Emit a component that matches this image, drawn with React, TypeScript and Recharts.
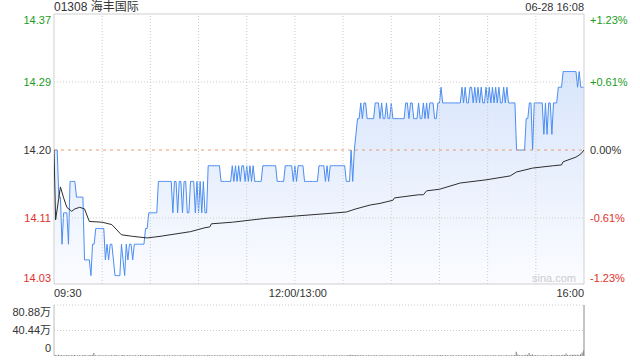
import React from 'react';
import { ComposedChart, Area, Line, Bar, XAxis, YAxis, ReferenceLine, ReferenceArea } from 'recharts';

// header texts
const stockTitle = '01308 海丰国际';
const stampText = '06-28 16:08';
const watermark = 'sina.com';

// price scale
const prevClose = 14.2;
const priceLow = 14.0293;
const priceHigh = 14.3733;
const priceTickLabels = ['14.03', '14.11', '14.20', '14.29', '14.37'];
const pctTickLabels = ['-1.23%', '-0.61%', '0.00%', '+0.61%', '+1.23%'];

// time axis (minutes after 09:30, lunch break removed)
const timeTicks = [0, 150, 330];
const timeLabels = ['09:30', '12:00/13:00', '16:00'];
const gridMinutes = [30, 60, 90, 120, 150, 180, 210, 240, 270, 300];

// volume scale (万)
const volMax = 80.88;
const volTicks = [0, 40.44, 80.88];
const volTickLabels = ['0', '40.44万', '80.88万'];

// price per minute
const prices = [
  14.20, 14.20, 14.20, 14.14, 14.14, 14.08, 14.12, 14.12, 14.12, 14.08,
  14.16, 14.16, 14.16, 14.16, 14.14, 14.14, 14.14, 14.14, 14.14, 14.06,
  14.06, 14.06, 14.06, 14.04, 14.08, 14.08, 14.10, 14.10, 14.10, 14.10,
  14.10, 14.10, 14.06, 14.08, 14.06, 14.08, 14.08, 14.06, 14.04, 14.04,
  14.04, 14.04, 14.08, 14.06, 14.04, 14.08, 14.06, 14.08, 14.08, 14.06,
  14.08, 14.08, 14.08, 14.08, 14.08, 14.08, 14.08, 14.10, 14.10, 14.12,
  14.12, 14.12, 14.12, 14.12, 14.12, 14.16, 14.16, 14.16, 14.16, 14.16,
  14.16, 14.16, 14.16, 14.16, 14.12, 14.16, 14.16, 14.12, 14.16, 14.16,
  14.12, 14.16, 14.16, 14.12, 14.12, 14.16, 14.16, 14.16, 14.12, 14.16,
  14.12, 14.16, 14.12, 14.16, 14.12, 14.12, 14.18, 14.18, 14.18, 14.18,
  14.18, 14.18, 14.18, 14.18, 14.16, 14.16, 14.16, 14.16, 14.16, 14.16,
  14.16, 14.18, 14.16, 14.18, 14.16, 14.18, 14.16, 14.18, 14.18, 14.16,
  14.18, 14.16, 14.18, 14.16, 14.18, 14.16, 14.16, 14.16, 14.16, 14.16,
  14.18, 14.18, 14.18, 14.18, 14.18, 14.18, 14.18, 14.18, 14.18, 14.16,
  14.16, 14.16, 14.16, 14.16, 14.18, 14.18, 14.18, 14.18, 14.18, 14.16,
  14.18, 14.16, 14.18, 14.18, 14.18, 14.18, 14.16, 14.16, 14.16, 14.16,
  14.16, 14.16, 14.16, 14.16, 14.16, 14.18, 14.18, 14.18, 14.18, 14.16,
  14.18, 14.16, 14.18, 14.18, 14.18, 14.18, 14.18, 14.18, 14.18, 14.18,
  14.18, 14.18, 14.16, 14.16, 14.16, 14.20, 14.16, 14.20, 14.22, 14.24,
  14.24, 14.26, 14.24, 14.26, 14.26, 14.24, 14.24, 14.24, 14.24, 14.24,
  14.26, 14.26, 14.26, 14.24, 14.26, 14.24, 14.24, 14.26, 14.24, 14.24,
  14.26, 14.24, 14.24, 14.24, 14.24, 14.24, 14.24, 14.24, 14.24, 14.26,
  14.26, 14.24, 14.26, 14.26, 14.24, 14.24, 14.24, 14.26, 14.24, 14.24,
  14.26, 14.24, 14.26, 14.24, 14.26, 14.26, 14.26, 14.24, 14.24, 14.26,
  14.26, 14.28, 14.26, 14.26, 14.26, 14.26, 14.26, 14.26, 14.26, 14.26,
  14.26, 14.26, 14.26, 14.26, 14.28, 14.26, 14.28, 14.26, 14.26, 14.28,
  14.28, 14.26, 14.28, 14.26, 14.28, 14.26, 14.28, 14.26, 14.26, 14.28,
  14.26, 14.28, 14.26, 14.28, 14.26, 14.28, 14.26, 14.28, 14.26, 14.26,
  14.28, 14.26, 14.28, 14.26, 14.26, 14.26, 14.26, 14.26, 14.20, 14.20,
  14.20, 14.20, 14.20, 14.20, 14.24, 14.24, 14.26, 14.26, 14.20, 14.26,
  14.26, 14.26, 14.26, 14.26, 14.26, 14.22, 14.26, 14.22, 14.26, 14.26,
  14.22, 14.26, 14.26, 14.26, 14.28, 14.28, 14.28, 14.30, 14.30, 14.30,
  14.30, 14.30, 14.30, 14.30, 14.30, 14.30, 14.28, 14.30, 14.28, 14.28,
  14.28,
];

// average price line, read at its turning points
const avgMinutes = [0, 1, 4, 6, 8, 11, 13, 16, 19, 22, 30, 36, 42, 49, 58, 66, 85, 94, 97, 98, 111, 132, 151, 170, 182, 188, 197, 203, 211, 212, 227, 230, 232, 240, 253, 269, 284, 288, 298, 311, 316, 317, 325, 328, 330];
const avgPrices = [14.200, 14.111, 14.153, 14.139, 14.127, 14.122, 14.125, 14.127, 14.125, 14.109, 14.108, 14.105, 14.092, 14.090, 14.088, 14.090, 14.096, 14.101, 14.102, 14.106, 14.108, 14.113, 14.116, 14.119, 14.121, 14.125, 14.130, 14.132, 14.136, 14.139, 14.143, 14.143, 14.148, 14.150, 14.158, 14.162, 14.167, 14.172, 14.177, 14.180, 14.181, 14.185, 14.191, 14.195, 14.200];

// volume per minute (万股)
const volumes = [
  2.5, 1.6, 1.2, 1.8, 1.1, 1.5, 0.9, 1.3, 1.0, 1.4, 0.8, 1.2, 1.0, 1.5, 0.9, 1.1, 1.3, 0.8, 1.0, 1.6, 1.2, 0.9, 1.4, 1.1, 1.8, 4.8, 1.3, 0.9, 1.1, 1.2,
  1.0, 0.8, 1.2, 1.1, 0.9, 1.3, 1.0, 0.8, 1.4, 1.1, 1.2, 0.9, 1.0, 1.5, 1.1, 0.8, 1.2, 1.0, 1.3, 0.9, 1.1, 1.0, 0.8, 1.2, 1.4, 1.0, 0.9, 1.6, 1.2, 1.1,
  0.9, 1.2, 1.0, 0.8, 1.1, 1.5, 1.0, 0.9, 1.2, 1.1, 0.8, 1.3, 1.0, 0.9, 1.2, 1.0, 1.1, 0.8, 1.3, 1.0, 0.9, 1.2, 1.1, 1.0, 0.8, 1.3, 1.0, 1.2, 0.9, 1.1,
  1.0, 1.2, 0.8, 1.1, 1.3, 0.9, 1.6, 1.0, 1.2, 0.9, 1.1, 1.0, 0.8, 1.2, 1.3, 1.0, 0.9, 1.1, 1.2, 0.8, 1.0, 1.3, 1.1, 0.9, 1.2, 1.0, 0.8, 1.1, 1.2, 1.0,
  0.9, 1.1, 1.0, 1.2, 0.8, 1.0, 1.1, 0.9, 1.3, 1.0, 1.2, 0.9, 1.0, 1.1, 0.8, 1.2, 1.0, 0.9, 1.1, 1.3, 1.0, 0.8, 1.2, 1.0, 0.9, 1.1, 1.0, 1.2, 0.8, 1.4,
  1.2, 1.0, 0.9, 1.1, 1.3, 1.0, 0.8, 1.2, 1.1, 0.9, 1.0, 1.2, 0.8, 1.1, 1.0, 1.3, 0.9, 1.1, 1.0, 1.2, 0.8, 1.0, 1.1, 0.9, 1.2, 1.0, 1.1, 0.8, 1.3, 1.0,
  1.1, 0.9, 1.2, 1.0, 1.4, 1.8, 1.2, 1.5, 1.3, 1.6, 1.1, 1.2, 1.0, 1.3, 0.9, 1.1, 1.2, 1.0, 0.8, 1.1, 1.3, 1.0, 0.9, 1.2, 1.1, 1.0, 0.8, 1.2, 1.0, 1.1,
  1.2, 0.9, 1.0, 1.1, 0.8, 1.2, 1.0, 1.3, 0.9, 1.1, 1.0, 1.2, 0.8, 1.1, 1.0, 0.9, 1.2, 1.0, 1.1, 0.8, 1.3, 1.0, 0.9, 1.2, 1.1, 1.0, 1.2, 0.9, 1.0, 1.1,
  1.0, 1.4, 1.1, 0.9, 1.2, 1.0, 0.8, 1.1, 1.3, 1.0, 0.9, 1.2, 1.0, 1.1, 1.3, 0.9, 1.2, 1.0, 0.8, 1.1, 1.2, 1.0, 1.3, 0.9, 1.1, 1.0, 1.2, 0.8, 1.0, 1.1,
  1.2, 1.0, 0.9, 1.1, 1.0, 1.3, 0.8, 1.2, 1.0, 1.1, 0.9, 1.2, 1.0, 1.1, 0.8, 1.3, 1.2, 1.5, 6.8, 2.2, 1.3, 1.1, 1.0, 1.2, 1.8, 1.4, 4.6, 1.5, 2.8, 1.3,
  1.1, 1.0, 1.2, 0.9, 1.1, 1.3, 1.0, 1.2, 0.9, 1.1, 1.4, 1.0, 1.2, 1.1, 1.5, 1.3, 1.2, 2.0, 1.4, 4.0, 1.6, 1.3, 1.8, 1.5, 2.4, 1.7, 2.0, 1.6, 2.6, 5.5,
  9.0,
];

const FONT = "'Liberation Sans', Arial, 'Noto Sans CJK SC', sans-serif";
const GREEN = '#1b9c1b';
const RED = '#e3302b';
const DARK = '#333333';

const pctStep = prevClose * 0.0061;
const priceTicks = [priceLow, prevClose - pctStep, prevClose, prevClose + pctStep, priceHigh];

const priceData = prices.map((p, i) => ({ m: i, price: p }));
const avgData = avgMinutes.map((m, i) => ({ m, avg: avgPrices[i] }));
const volData = volumes.map((v, i) => ({ m: i, vol: v }));

const nearestIndex = (list: number[], v: number) => {
  let best = 0;
  list.forEach((t, i) => {
    if (Math.abs(t - v) < Math.abs(list[best] - v)) best = i;
  });
  return best;
};

const tickColor = (i: number) => (i < 2 ? RED : i === 2 ? DARK : GREEN);

function PriceTick(props: any) {
  const { x, y, payload, side } = props;
  const i = nearestIndex(priceTicks, payload.value);
  const shift = i === 0 ? -6 : i === 4 ? 6 : 0;
  const label = side === 'left' ? priceTickLabels[i] : pctTickLabels[i];
  return (
    <text x={x} y={y + shift} dy="0.355em" textAnchor={side === 'left' ? 'end' : 'start'}
      fill={tickColor(i)} fontSize={11} fontFamily={FONT}>
      {label}
    </text>
  );
}

function TimeTick(props: any) {
  const { x, y, payload } = props;
  const i = nearestIndex(timeTicks, payload.value);
  const anchor = i === 0 ? 'start' : i === 2 ? 'end' : 'middle';
  return (
    <text x={x + (i === 1 ? 3 : 0)} y={y} dy={12.5} textAnchor={anchor} fill={DARK} fontSize={11} fontFamily={FONT}>
      {timeLabels[i]}
    </text>
  );
}

function VolTick(props: any) {
  const { x, y, payload } = props;
  const i = nearestIndex(volTicks, payload.value);
  const shift = i === 0 ? -8 : i === 2 ? 7 : 0;
  return (
    <text x={x} y={y + shift} dy="0.355em" textAnchor="end" fill={DARK} fontSize={11} fontFamily={FONT}>
      {volTickLabels[i]}
    </text>
  );
}

export default function App() {
  return (
    <div style={{ position: 'absolute', left: 0, top: 0, width: 640, height: 360, background: '#fff', overflow: 'hidden', fontFamily: FONT }}>
      <div style={{ position: 'absolute', left: 54, top: 0, fontSize: 12, lineHeight: '15px', color: DARK }}>{stockTitle}</div>
      <div style={{ position: 'absolute', right: 56, top: 0, fontSize: 11, lineHeight: '15px', color: DARK }}>{stampText}</div>

      <div style={{ position: 'absolute', left: 0, top: 0 }}>
        <ComposedChart width={640} height={300} data={priceData} margin={{ top: 14, right: 0, bottom: 0, left: 0 }}>
          <defs>
            <linearGradient id="priceFill" x1="0" y1="0" x2="0" y2="1">
              <stop offset="0%" stopColor="#d8e5fb" />
              <stop offset="100%" stopColor="#fbfcff" />
            </linearGradient>
          </defs>
          <XAxis dataKey="m" type="number" domain={[0, 330]} ticks={timeTicks} interval={0} height={16}
            axisLine={false} tickLine={false} tickSize={0} tickMargin={0} tick={<TimeTick />} allowDataOverflow />
          <YAxis yAxisId="left" type="number" domain={[priceLow, priceHigh]} ticks={priceTicks} interval={0} width={54}
            axisLine={false} tickLine={false} tickSize={0} tickMargin={3} tick={<PriceTick side="left" />} allowDataOverflow />
          <YAxis yAxisId="right" orientation="right" type="number" domain={[priceLow, priceHigh]} ticks={priceTicks} interval={0} width={56}
            axisLine={false} tickLine={false} tickSize={0} tickMargin={6} tick={<PriceTick side="right" />} allowDataOverflow />

          <Area yAxisId="left" type="linear" dataKey="price" stroke="#4b8df1" strokeWidth={1} fill="url(#priceFill)" fillOpacity={1}
            baseValue="dataMin" dot={false} activeDot={false} isAnimationActive={false} />

          {gridMinutes.map((m) => (
            <ReferenceLine key={`v${m}`} yAxisId="left" x={m} stroke="#cdcdcd" strokeDasharray="1 2" />
          ))}
          <ReferenceLine yAxisId="left" y={prevClose + pctStep} stroke="#cdcdcd" strokeDasharray="1 2" />
          <ReferenceLine yAxisId="left" y={prevClose - pctStep} stroke="#cdcdcd" strokeDasharray="1 2" />
          <ReferenceLine yAxisId="left" y={prevClose} stroke="#eb9a70" strokeDasharray="3 4" />
          <ReferenceArea yAxisId="left" x1={0} x2={330} y1={priceLow} y2={priceHigh} fill="none" fillOpacity={0} stroke="#cfcfcf" />

          <Line yAxisId="right" data={avgData} type="linear" dataKey="avg" stroke="#2e2e2e" strokeWidth={1}
            dot={false} activeDot={false} isAnimationActive={false} />
        </ComposedChart>
      </div>

      <div style={{ position: 'absolute', left: 532, top: 271, fontSize: 11, lineHeight: '15px', color: '#cccccc' }}>{watermark}</div>

      <div style={{ position: 'absolute', left: 0, top: 300 }}>
        <ComposedChart width={640} height={60} data={volData} margin={{ top: 5, right: 56, bottom: 4, left: 0 }}>
          <XAxis dataKey="m" type="number" domain={[0, 330]} hide allowDataOverflow />
          <YAxis type="number" domain={[0, volMax]} ticks={volTicks} interval={0} width={54}
            axisLine={false} tickLine={false} tickSize={0} tickMargin={3} tick={<VolTick />} allowDataOverflow />
          <ReferenceLine y={volMax} stroke="#cdcdcd" strokeDasharray="1 2" />
          <ReferenceLine y={40.44} stroke="#cdcdcd" strokeDasharray="1 2" />
          <ReferenceLine x={0} stroke="#bdbdbd" />
          <ReferenceLine x={330} stroke="#8a8a8a" />
          <Bar dataKey="vol" fill="#7a7a7a" barSize={1} isAnimationActive={false} />
        </ComposedChart>
      </div>
    </div>
  );
}
